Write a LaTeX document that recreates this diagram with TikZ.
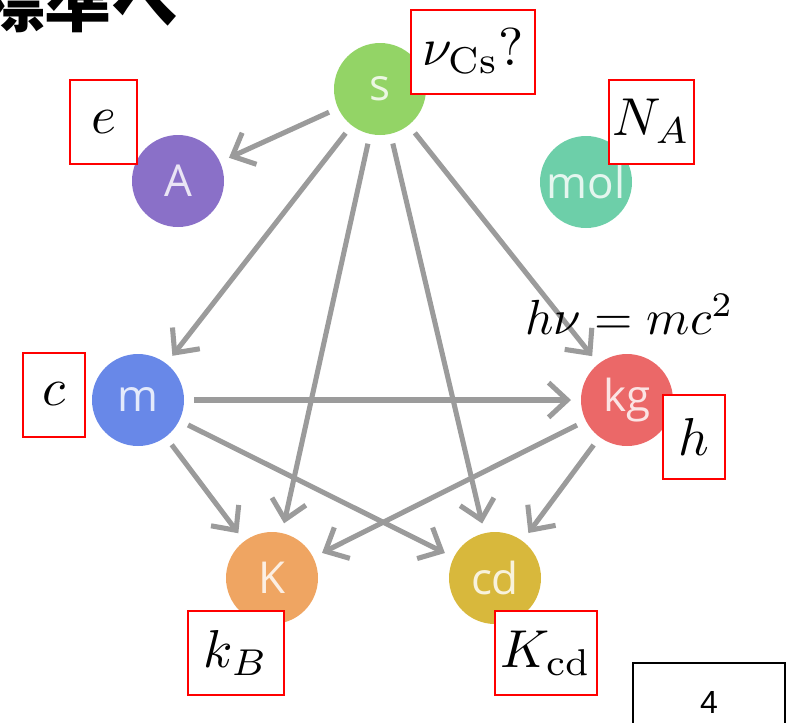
\documentclass[tikz,border=0pt]{standalone}
\usepackage{fontspec}
\usetikzlibrary{arrows.meta}
\newfontfamily\jpfont{Noto Sans CJK JP}
\newfontfamily\unitfont{Open Sans}
\newfontfamily\pagefont{Liberation Sans}
\definecolor{unitS}{HTML}{93D466}
\definecolor{unitA}{HTML}{8A70C8}
\definecolor{unitMol}{HTML}{6DCFA9}
\definecolor{unitM}{HTML}{6888E8}
\definecolor{unitKg}{HTML}{EB6868}
\definecolor{unitK}{HTML}{EFA562}
\definecolor{unitCd}{HTML}{D8B83C}
\definecolor{linkGray}{HTML}{9B9B9B}
\definecolor{boxRed}{HTML}{FF0000}
% math at slide size
\newcommand{\bigmath}[1]{\scalebox{4}{$#1$}}

\begin{document}
\begin{tikzpicture}[x=0.75pt,y=-0.75pt,
    unit/.style={circle,fill=#1,text=white!82!#1,minimum size=69pt,inner sep=0pt,outer sep=7.5pt,font=\unitfont\fontsize{33}{33}\selectfont},
    link/.style={draw=linkGray,line width=3.8pt,-{Straight Barb[length=14pt,width=26pt]}},
    const/.style={draw=boxRed,line width=1.5pt,fill=white,inner sep=0pt,minimum height=63pt}]
    \clip (0,0) rectangle (795,722);
    % cut-off heading
    \node[anchor=base west,inner sep=0pt,font=\jpfont\bfseries\fontsize{50}{50}\selectfont] (title) at (-22,26) {標準へ};
    % base units
    \node[unit=unitS] (s) at (380,89) {s};
    \node[unit=unitA] (A) at (178,181) {A};
    \node[unit=unitMol] (mol) at (586,182) {mol};
    \node[unit=unitM] (m) at (138,400) {m};
    \node[unit=unitKg] (kg) at (627,400) {kg};
    \node[unit=unitK] (K) at (272,578) {K};
    \node[unit=unitCd] (cd) at (495,578) {cd};
    % dependencies
    \draw[link] (s) -- (A);
    \draw[link] (s) -- (m);
    \draw[link] (s) -- (K);
    \draw[link] (s) -- (cd);
    \draw[link] (s) -- (kg);
    \draw[link] (m) -- (kg);
    \draw[link] (m) -- (K);
    \draw[link] (m) -- (cd);
    \draw[link] (kg) -- (K);
    \draw[link] (kg) -- (cd);
    % defining constants
    \node[const,minimum width=93pt] (nuCs) at (473,51.5) {\bigmath{\nu_{\mathrm{Cs}}?}};
    \node[const,minimum width=50.25pt] (e) at (103.5,122) {\bigmath{e}};
    \node[const,minimum width=63.75pt] (NA) at (651.5,121.5) {\bigmath{N_A}};
    \node[const,minimum width=46.5pt] (c) at (54,394.5) {\bigmath{c}};
    \node[const,minimum width=46.5pt] (h) at (694,437) {\bigmath{h}};
    \node[const,minimum width=72pt] (kB) at (236,653) {\bigmath{k_B}};
    \node[const,minimum width=76.5pt] (Kcd) at (546,653) {\bigmath{K_{\mathrm{cd}}}};
    \node[anchor=base west,inner sep=0pt] (mass) at (525,334) {\scalebox{3.7}{$h\nu = mc^2$}};
    % page number
    \node[draw=black,line width=1.5pt,minimum width=114pt,minimum height=58.5pt,inner sep=0pt,font=\pagefont\fontsize{24}{24}\selectfont] (page) at (709,702) {4};
\end{tikzpicture}
\end{document}
